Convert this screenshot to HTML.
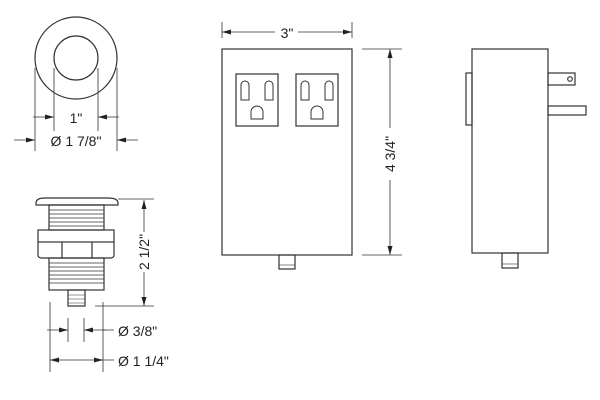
<!DOCTYPE html>
<html><head><style>body{margin:0;background:#fff}svg{display:block}text{font-family:"Liberation Sans",sans-serif;font-size:14px;fill:#222}</style></head>
<body>
<svg width="600" height="400" viewBox="0 0 600 400" xmlns="http://www.w3.org/2000/svg">
<g fill="none" stroke="#333" stroke-width="1.2">
<!-- top circle -->
<circle cx="76" cy="58" r="41"/>
<circle cx="76" cy="58" r="22"/>
<path d="M35,68V151M54,68V131M98,68V131M117,68V151" stroke-width="0.8"/>
<path d="M33,117H54M119,117H98" stroke-width="0.8"/>
<path d="M14,140H35M138,140H117" stroke-width="0.8"/>
<!-- button -->
<path d="M36,203 Q36,198 45,198 L108,198 Q118,198 118,203 L118,205 L36,205Z"/>
<rect x="49" y="205" width="55" height="25"/>
<path d="M49,210H104M49,214H104M49,218H104M49,222H104M49,226H104" stroke-width="0.7"/>
<rect x="38" y="230" width="76" height="12"/>
<path d="M38,242V255Q38,258 42,258H110Q114,258 114,255V242M62,242V258M92,242V258"/>
<rect x="49" y="258" width="55" height="32"/>
<path d="M49,263H104M49,267H104M49,271H104M49,275H104M49,279H104M49,283H104" stroke-width="0.7"/>
<rect x="68" y="290" width="17" height="16"/>
<path d="M68,295H85M68,299H85M68,303H85" stroke-width="0.6"/>
<path d="M118,199H154M95,306H154" stroke-width="0.8"/>
<path d="M144,232V200M144,272V306" stroke-width="0.8"/>
<path d="M50,302V372M68,318V342M84,318V342M103,302V372" stroke-width="0.8"/>
<path d="M47,330H68M106,330H84" stroke-width="0.8"/>
<path d="M50,360H103" stroke-width="0.8"/>
<path d="M103,330H114M103,360H114" stroke-width="0.8"/>
<!-- outlet box -->
<rect x="222" y="49" width="130" height="206"/>
<rect x="236" y="74" width="42" height="52"/>
<rect x="296" y="74" width="42" height="52"/>
<g stroke-width="1">
<path d="M241,100V85a4,4 0 0 1 8,0V100Z"/><path d="M265,100V85a4,4 0 0 1 8,0V100Z"/>
<path d="M251,119V112a6,6 0 0 1 12,0V119Z"/>
<path d="M301,100V85a4,4 0 0 1 8,0V100Z"/><path d="M325,100V85a4,4 0 0 1 8,0V100Z"/>
<path d="M311,119V112a6,6 0 0 1 12,0V119Z"/>
</g>
<rect x="279" y="255" width="16" height="14"/>
<path d="M279,265H295" stroke-width="0.6"/>
<path d="M222,22V38M352,22V38" stroke-width="0.8"/>
<path d="M275,32H222M298,32H352" stroke-width="0.8"/>
<path d="M362,49H402M362,255H402" stroke-width="0.8"/>
<path d="M390,128V49M390,180V255" stroke-width="0.8"/>
<!-- side view -->
<rect x="472" y="49" width="76" height="204"/>
<rect x="466" y="73" width="6" height="52"/>
<rect x="548" y="73" width="27" height="12"/>
<circle cx="570" cy="79" r="2.3"/>
<rect x="548" y="106" width="38" height="9"/>
<rect x="502" y="253" width="16" height="15"/>
<path d="M502,264H518" stroke-width="0.6"/>
</g>
<g fill="#222">
<!-- right-pointing (tip at x) -->
<polygon points="54,117 45,114.5 45,119.5"/>
<polygon points="98,117 107,114.5 107,119.5"/>
<polygon points="35,140 26,137.5 26,142.5"/>
<polygon points="117,140 126,137.5 126,142.5"/>
<polygon points="144,200 141.5,209 146.5,209"/>
<polygon points="144,306 141.5,297 146.5,297"/>
<polygon points="68,330 59,327.5 59,332.5"/>
<polygon points="84,330 93,327.5 93,332.5"/>
<polygon points="50,360 59,357.5 59,362.5"/>
<polygon points="103,360 94,357.5 94,362.5"/>
<polygon points="222,32 231,29.5 231,34.5"/>
<polygon points="352,32 343,29.5 343,34.5"/>
<polygon points="390,49 387.5,58 392.5,58"/>
<polygon points="390,255 387.5,246 392.5,246"/>
</g>
<text x="76" y="123" text-anchor="middle">1"</text>
<text x="76" y="146" text-anchor="middle">Ø 1 7/8"</text>
<text transform="translate(149,252) rotate(-90)" text-anchor="middle">2 1/2"</text>
<text x="118" y="336">Ø 3/8"</text>
<text x="118" y="366">Ø 1 1/4"</text>
<text x="287" y="38" text-anchor="middle">3"</text>
<text transform="translate(395,154) rotate(-90)" text-anchor="middle">4 3/4"</text>
</svg>
</body></html>
